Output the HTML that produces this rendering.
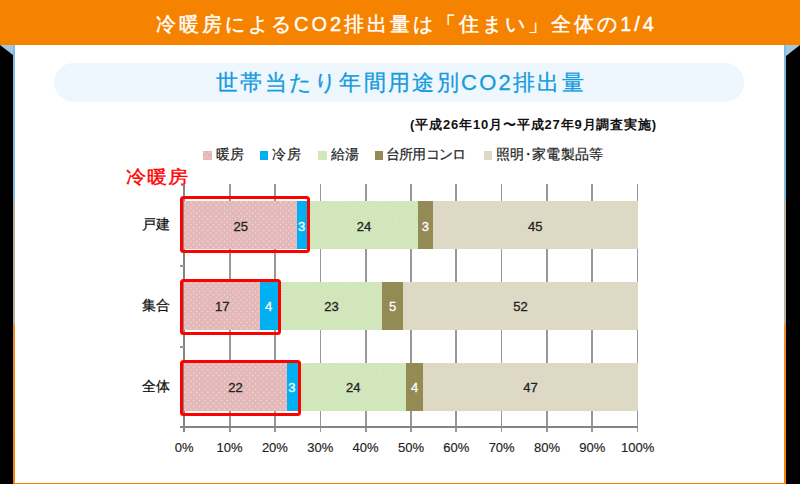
<!DOCTYPE html>
<html lang="ja"><head><meta charset="utf-8">
<style>
html,body{margin:0;padding:0;}
body{width:800px;height:484px;position:relative;overflow:hidden;background:#000;font-family:"Liberation Sans",sans-serif;}
.a{position:absolute;}
#hdr{left:0;top:0;width:800px;height:45px;background:#F68300;}
#hdrt{left:156px;top:0;height:45px;line-height:49px;color:#fff;font-size:20px;letter-spacing:3px;-webkit-text-stroke:0.4px #fff;white-space:nowrap;}
#panel{left:12.8px;top:45px;width:773.2px;height:439px;background:linear-gradient(#7DBBE6 0px,#7DBBE6 155px,#B8AE9E 157px,#B8AE9E 278px,#F38A2A 281px,#F68300 439px);}
#inner{left:14.8px;top:45px;width:768.9px;height:438px;background:#fff;}
#pill{left:54px;top:62.5px;width:690px;height:39.5px;border-radius:20px;background:#EEF7FD;}
#sub{left:56px;top:62.5px;width:690px;height:39.5px;line-height:39.5px;text-align:center;color:#159BE0;font-size:22px;letter-spacing:2.3px;-webkit-text-stroke:0.3px #159BE0;white-space:nowrap;}
.pink{background-color:#E3B6B7;background-image:radial-gradient(circle at 1.4px 1.4px, rgba(255,255,255,.5) 0.6px, transparent 1.1px),radial-gradient(circle at 4.2px 4.2px, rgba(255,255,255,.5) 0.6px, transparent 1.1px);background-size:5.6px 5.6px;}
.blue{background:#00B0F0;}
.green{background-color:#CAE2B0;background-image:linear-gradient(45deg, rgba(255,255,255,.35) 25%, transparent 25%, transparent 75%, rgba(255,255,255,.35) 75%),linear-gradient(45deg, rgba(255,255,255,.35) 25%, transparent 25%, transparent 75%, rgba(255,255,255,.35) 75%);background-size:2.8px 2.8px;background-position:0 0,1.4px 1.4px;}
.olive{background:#948A54;}
.beige{background:#DDD9C4;}
.gl{background:#989898;width:1.8px;}
.lbl{font-size:13px;color:#222;text-align:center;white-space:nowrap;}
.red{border:3.8px solid #FF0000;border-radius:3.5px;box-sizing:border-box;}
.leg{font-size:13.5px;letter-spacing:0.3px;color:#222;-webkit-text-stroke:0.2px #222;white-space:nowrap;}
.sq{width:8.5px;height:8.5px;}
.c{display:inline-block;text-align:center;letter-spacing:0;}
</style></head><body>
<div class="a" id="hdr"></div>
<div class="a" style="left:0;top:45px;width:0;height:0;border-top:10px solid #A6C6DE;border-left:13px solid transparent;"></div>
<div class="a" style="left:786px;top:45px;width:0;height:0;border-top:11px solid #A6C6DE;border-right:14px solid transparent;"></div>
<div class="a" id="panel"></div>
<div class="a" id="inner"></div>
<div class="a" id="hdrt"><span class="c" style="width:20px;margin-right:3px">冷</span><span class="c" style="width:20px;margin-right:3px">暖</span><span class="c" style="width:20px;margin-right:3px">房</span><span class="c" style="width:20px;margin-right:3px">に</span><span class="c" style="width:20px;margin-right:3px">よ</span><span class="c" style="width:20px;margin-right:3px">る</span>CO2<span class="c" style="width:20px;margin-right:3px">排</span><span class="c" style="width:20px;margin-right:3px">出</span><span class="c" style="width:20px;margin-right:3px">量</span><span class="c" style="width:20px;margin-right:3px">は</span><span class="c" style="width:20px;margin-right:3px">「</span><span class="c" style="width:20px;margin-right:3px">住</span><span class="c" style="width:20px;margin-right:3px">ま</span><span class="c" style="width:20px;margin-right:3px">い</span><span class="c" style="width:20px;margin-right:3px">」</span><span class="c" style="width:20px;margin-right:3px">全</span><span class="c" style="width:20px;margin-right:3px">体</span><span class="c" style="width:20px;margin-right:3px">の</span>1/4</div>
<div class="a" id="pill"></div>
<div class="a" id="sub"><span class="c" style="width:22.013px;margin-right:2.3px">世</span><span class="c" style="width:22.013px;margin-right:2.3px">帯</span><span class="c" style="width:22.013px;margin-right:2.3px">当</span><span class="c" style="width:23.013px;margin-right:2.3px">た</span><span class="c" style="width:23.013px;margin-right:2.3px">り</span><span class="c" style="width:22.013px;margin-right:2.3px">年</span><span class="c" style="width:22.013px;margin-right:2.3px">間</span><span class="c" style="width:22.013px;margin-right:2.3px">用</span><span class="c" style="width:22.013px;margin-right:2.3px">途</span><span class="c" style="width:22.013px;margin-right:2.3px">別</span>CO2<span class="c" style="width:22.013px;margin-right:2.3px">排</span><span class="c" style="width:22.013px;margin-right:2.3px">出</span><span class="c" style="width:22.013px;margin-right:2.3px">量</span></div>

<div class="a" style="left: 410px; top: 116px; font-size: 13px; font-weight: bold; letter-spacing: 0.85px; color: rgb(17, 17, 17); white-space: nowrap;">(<span class="c" style="width:13.009px;margin-right:0.85px">平</span><span class="c" style="width:13.009px;margin-right:0.85px">成</span>26<span class="c" style="width:13.009px;margin-right:0.85px">年</span>10<span class="c" style="width:13.009px;margin-right:0.85px">月</span><span class="c" style="width:13.009px;margin-right:0.85px">〜</span><span class="c" style="width:13.009px;margin-right:0.85px">平</span><span class="c" style="width:13.009px;margin-right:0.85px">成</span>27<span class="c" style="width:13.009px;margin-right:0.85px">年</span>9<span class="c" style="width:13.009px;margin-right:0.85px">月</span><span class="c" style="width:13.009px;margin-right:0.85px">調</span><span class="c" style="width:13.009px;margin-right:0.85px">査</span><span class="c" style="width:13.009px;margin-right:0.85px">実</span><span class="c" style="width:13.009px;margin-right:0.85px">施</span>)</div>
<div class="a sq pink" style="left:203px;top:151px;"></div>
<div class="a leg" style="left: 215.5px; top: 146px;"><span class="c" style="width:14.013px;margin-right:0.3px">暖</span><span class="c" style="width:14.013px;margin-right:0.3px">房</span></div>
<div class="a sq blue" style="left:259.8px;top:151px;"></div>
<div class="a leg" style="left: 272.3px; top: 146px;"><span class="c" style="width:14.013px;margin-right:0.3px">冷</span><span class="c" style="width:14.013px;margin-right:0.3px">房</span></div>
<div class="a sq green" style="left:318px;top:151px;"></div>
<div class="a leg" style="left: 330.5px; top: 146px;"><span class="c" style="width:14.013px;margin-right:0.3px">給</span><span class="c" style="width:14.013px;margin-right:0.3px">湯</span></div>
<div class="a sq olive" style="left:374.6px;top:151px;"></div>
<div class="a leg" style="left: 387.1px; top: 146px;"><span style="letter-spacing:-0.7px;margin-left:-1.5px"><span class="c" style="width:14.013px;margin-right:-0.7px">台</span><span class="c" style="width:14.013px;margin-right:-0.7px">所</span><span class="c" style="width:14.013px;margin-right:-0.7px">用</span><span class="c" style="width:14.013px;margin-right:-0.7px">コ</span><span class="c" style="width:14.013px;margin-right:-0.7px">ン</span><span class="c" style="width:14.013px;margin-right:-0.7px">ロ</span></span></div>
<div class="a sq beige" style="left:483.7px;top:151px;"></div>
<div class="a leg" style="left: 496.2px; top: 146px;"><span class="c" style="width:14.013px;margin-right:0.3px">照</span><span class="c" style="width:14.013px;margin-right:0.3px">明</span><span style="margin:0 -3.5px"><span class="c" style="width:14.013px;margin-right:0.3px">・</span></span><span class="c" style="width:14.013px;margin-right:0.3px">家</span><span class="c" style="width:14.013px;margin-right:0.3px">電</span><span class="c" style="width:14.013px;margin-right:0.3px">製</span><span class="c" style="width:14.013px;margin-right:0.3px">品</span><span class="c" style="width:14.013px;margin-right:0.3px">等</span></div>
<div class="a" style="left: 126px; top: 165px; font-size: 18px; letter-spacing: 0.6px; transform: scaleX(1.12); transform-origin: 0px 0px; -webkit-text-stroke: 0.35px rgb(255, 0, 0); color: rgb(255, 0, 0); white-space: nowrap;"><span class="c" style="width:18.009px;margin-right:0.6px">冷</span><span class="c" style="width:18.009px;margin-right:0.6px">暖</span><span class="c" style="width:18.009px;margin-right:0.6px">房</span></div>
<div class="a gl" style="left:228.90px;top:184px;height:248px;"></div>
<div class="a gl" style="left:274.20px;top:184px;height:248px;"></div>
<div class="a gl" style="left:319.50px;top:184px;height:248px;"></div>
<div class="a gl" style="left:364.80px;top:184px;height:248px;"></div>
<div class="a gl" style="left:410.10px;top:184px;height:248px;"></div>
<div class="a gl" style="left:455.40px;top:184px;height:248px;"></div>
<div class="a gl" style="left:500.70px;top:184px;height:248px;"></div>
<div class="a gl" style="left:546.00px;top:184px;height:248px;"></div>
<div class="a gl" style="left:591.30px;top:184px;height:248px;"></div>
<div class="a gl" style="left:636.60px;top:184px;height:248px;"></div>
<div class="a gl" style="left:183.4px;top:184px;height:248px;background:#858585;"></div>
<div class="a" style="left:180px;top:426.2px;width:458px;height:1.8px;background:#858585;"></div>
<div class="a" style="left:180px;top:265px;width:4px;height:1.5px;background:#999;"></div>
<div class="a" style="left:180px;top:346px;width:4px;height:1.5px;background:#999;"></div>
<div class="a pink" style="left:184.20px;top:200.8px;width:113.10px;height:48.4px;"></div>
<div class="a lbl" style="left:184.20px;top:200.8px;width:113.10px;height:48.4px;line-height:51.4px;color:#222;-webkit-text-stroke:0.3px #222;">25</div>
<div class="a blue" style="left:297.30px;top:200.8px;width:12.70px;height:48.4px;"></div>
<div class="a lbl" style="left:297.30px;top:200.8px;width:8.70px;height:48.4px;line-height:51.4px;color:#fff;-webkit-text-stroke:0.3px #fff;">3</div>
<div class="a green" style="left:310.00px;top:200.8px;width:108.00px;height:48.4px;"></div>
<div class="a lbl" style="left:310.00px;top:200.8px;width:108.00px;height:48.4px;line-height:51.4px;color:#222;-webkit-text-stroke:0.3px #222;">24</div>
<div class="a olive" style="left:418.00px;top:200.8px;width:14.70px;height:48.4px;"></div>
<div class="a lbl" style="left:418.00px;top:200.8px;width:14.70px;height:48.4px;line-height:51.4px;color:#fff;-webkit-text-stroke:0.3px #fff;">3</div>
<div class="a beige" style="left:432.70px;top:200.8px;width:205.00px;height:48.4px;"></div>
<div class="a lbl" style="left:432.70px;top:200.8px;width:205.00px;height:48.4px;line-height:51.4px;color:#222;-webkit-text-stroke:0.3px #222;">45</div>
<div class="a red" style="left:180.2px;top:196.1px;width:129.8px;height:56.900000000000006px;"></div>
<div class="a lbl" style="left: 129.5px; top: 200.8px; width: 52px; height: 48.4px; line-height: 47.4px; font-size: 14px; color: rgb(17, 17, 17); -webkit-text-stroke: 0.25px rgb(17, 17, 17);"><span class="c" style="width:14px">戸</span><span class="c" style="width:14px">建</span></div>
<div class="a pink" style="left:184.20px;top:282.3px;width:76.10px;height:47.8px;"></div>
<div class="a lbl" style="left:184.20px;top:282.3px;width:76.10px;height:47.8px;line-height:50.8px;color:#222;-webkit-text-stroke:0.3px #222;">17</div>
<div class="a blue" style="left:260.30px;top:282.3px;width:20.80px;height:47.8px;"></div>
<div class="a lbl" style="left:260.30px;top:282.3px;width:16.80px;height:47.8px;line-height:50.8px;color:#fff;-webkit-text-stroke:0.3px #fff;">4</div>
<div class="a green" style="left:281.10px;top:282.3px;width:100.90px;height:47.8px;"></div>
<div class="a lbl" style="left:281.10px;top:282.3px;width:100.90px;height:47.8px;line-height:50.8px;color:#222;-webkit-text-stroke:0.3px #222;">23</div>
<div class="a olive" style="left:382.00px;top:282.3px;width:21.30px;height:47.8px;"></div>
<div class="a lbl" style="left:382.00px;top:282.3px;width:21.30px;height:47.8px;line-height:50.8px;color:#fff;-webkit-text-stroke:0.3px #fff;">5</div>
<div class="a beige" style="left:403.30px;top:282.3px;width:234.40px;height:47.8px;"></div>
<div class="a lbl" style="left:403.30px;top:282.3px;width:234.40px;height:47.8px;line-height:50.8px;color:#222;-webkit-text-stroke:0.3px #222;">52</div>
<div class="a red" style="left:180.2px;top:278.9px;width:100.90000000000003px;height:56.30000000000001px;"></div>
<div class="a lbl" style="left: 129.5px; top: 282.3px; width: 52px; height: 47.8px; line-height: 46.8px; font-size: 14px; color: rgb(17, 17, 17); -webkit-text-stroke: 0.25px rgb(17, 17, 17);"><span class="c" style="width:14px">集</span><span class="c" style="width:14px">合</span></div>
<div class="a pink" style="left:184.20px;top:363.1px;width:102.60px;height:47.7px;"></div>
<div class="a lbl" style="left:184.20px;top:363.1px;width:102.60px;height:47.7px;line-height:50.7px;color:#222;-webkit-text-stroke:0.3px #222;">22</div>
<div class="a blue" style="left:286.80px;top:363.1px;width:14.10px;height:47.7px;"></div>
<div class="a lbl" style="left:286.80px;top:363.1px;width:10.10px;height:47.7px;line-height:50.7px;color:#fff;-webkit-text-stroke:0.3px #fff;">3</div>
<div class="a green" style="left:300.90px;top:363.1px;width:104.90px;height:47.7px;"></div>
<div class="a lbl" style="left:300.90px;top:363.1px;width:104.90px;height:47.7px;line-height:50.7px;color:#222;-webkit-text-stroke:0.3px #222;">24</div>
<div class="a olive" style="left:405.80px;top:363.1px;width:17.40px;height:47.7px;"></div>
<div class="a lbl" style="left:405.80px;top:363.1px;width:17.40px;height:47.7px;line-height:50.7px;color:#fff;-webkit-text-stroke:0.3px #fff;">4</div>
<div class="a beige" style="left:423.20px;top:363.1px;width:214.50px;height:47.7px;"></div>
<div class="a lbl" style="left:423.20px;top:363.1px;width:214.50px;height:47.7px;line-height:50.7px;color:#222;-webkit-text-stroke:0.3px #222;">47</div>
<div class="a red" style="left:180.2px;top:360.3px;width:120.69999999999999px;height:55.89999999999998px;"></div>
<div class="a lbl" style="left: 129.5px; top: 363.1px; width: 52px; height: 47.7px; line-height: 46.7px; font-size: 14px; color: rgb(17, 17, 17); -webkit-text-stroke: 0.25px rgb(17, 17, 17);"><span class="c" style="width:14px">全</span><span class="c" style="width:14px">体</span></div>
<div class="a lbl" style="left:159.20px;top:440px;width:50px;-webkit-text-stroke:0.15px #222;">0%</div>
<div class="a lbl" style="left:204.55px;top:440px;width:50px;-webkit-text-stroke:0.15px #222;">10%</div>
<div class="a lbl" style="left:249.90px;top:440px;width:50px;-webkit-text-stroke:0.15px #222;">20%</div>
<div class="a lbl" style="left:295.25px;top:440px;width:50px;-webkit-text-stroke:0.15px #222;">30%</div>
<div class="a lbl" style="left:340.60px;top:440px;width:50px;-webkit-text-stroke:0.15px #222;">40%</div>
<div class="a lbl" style="left:385.95px;top:440px;width:50px;-webkit-text-stroke:0.15px #222;">50%</div>
<div class="a lbl" style="left:431.30px;top:440px;width:50px;-webkit-text-stroke:0.15px #222;">60%</div>
<div class="a lbl" style="left:476.65px;top:440px;width:50px;-webkit-text-stroke:0.15px #222;">70%</div>
<div class="a lbl" style="left:522.00px;top:440px;width:50px;-webkit-text-stroke:0.15px #222;">80%</div>
<div class="a lbl" style="left:567.35px;top:440px;width:50px;-webkit-text-stroke:0.15px #222;">90%</div>
<div class="a lbl" style="left:612.70px;top:440px;width:50px;-webkit-text-stroke:0.15px #222;">100%</div>
</body></html>
